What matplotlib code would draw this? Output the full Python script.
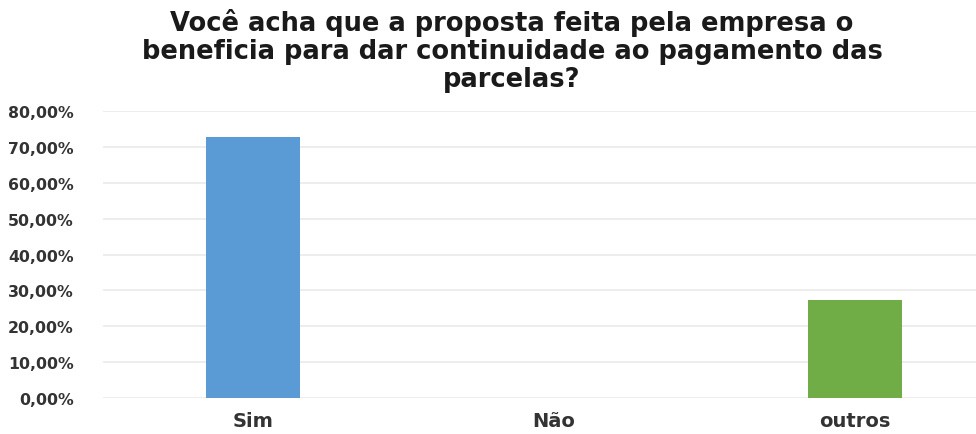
import matplotlib
matplotlib.use("Agg")
import matplotlib.pyplot as plt
from matplotlib.ticker import FuncFormatter

categories = ["Sim", "Não", "outros"]
values = [0.7273, 0.0, 0.2727]
bar_colors = ["#5B9BD5", "#A5A5A5", "#70AD47"]
y_ticks = [0.0, 0.1, 0.2, 0.3, 0.4, 0.5, 0.6, 0.7, 0.8]
title = ("Você acha que a proposta feita pela empresa o\n"
         "beneficia para dar continuidade ao pagamento das\n"
         "parcelas?")

W, H = 976, 435
fig = plt.figure(figsize=(W / 100, H / 100), dpi=100)
fig.patch.set_facecolor("white")

left, right = 103 / W, 1.0
bottom = 1 - 399.3 / H
top = 1 - 111.7 / H
ax = fig.add_axes([left, bottom, right - left, top - bottom])

x = list(range(len(categories)))
ax.bar(x, values, width=0.31, color=bar_colors, zorder=3)

ax.set_ylim(0, 0.8)
ax.set_xlim(-0.498, 2.402)
ax.set_yticks(y_ticks)
ax.yaxis.set_major_formatter(FuncFormatter(lambda v, p: f"{v * 100:.2f}%".replace(".", ",")))
ax.set_xticks(x)
ax.set_xticklabels(categories)

ax.grid(axis="y", color="#ececec", linewidth=1.3, zorder=0)
ax.set_axisbelow(True)
for s in ax.spines.values():
    s.set_visible(False)
ax.tick_params(axis="both", length=0)
ax.tick_params(axis="y", pad=21, labelsize=11.3, labelcolor="#333333")
ax.tick_params(axis="x", pad=9, labelsize=14, labelcolor="#333333")
for lab in ax.get_yticklabels() + ax.get_xticklabels():
    lab.set_fontweight("bold")

fig.text(512 / W, 1 - 9 / H, title, ha="center", va="top",
         fontsize=18.5, fontweight="bold", color="#1a1a1a", linespacing=1.1)

fig.savefig("out.png", dpi=100, facecolor="white")
